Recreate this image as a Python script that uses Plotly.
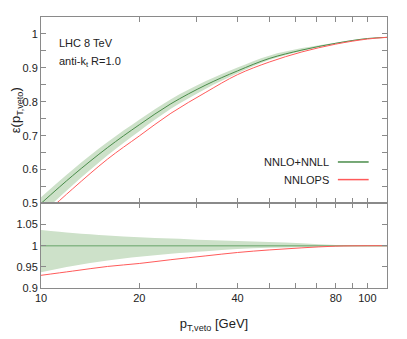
import plotly.graph_objects as go
from plotly.subplots import make_subplots

# jet veto efficiency vs pT,veto
pt = [10, 12.5, 16, 20, 25, 32, 40, 50, 63, 80, 100, 115]

# upper panel: efficiencies
eff_nnll = [0.500, 0.582, 0.665, 0.732, 0.794, 0.8495, 0.891, 0.9275, 0.9525,
            0.9725, 0.9865, 0.990]
eff_nnll_hi = [0.5185, 0.5995, 0.681, 0.7466, 0.8075, 0.861, 0.901, 0.9358, 0.9582,
               0.9744, 0.987, 0.990]
eff_nnll_lo = [0.4685, 0.554, 0.642, 0.713, 0.779, 0.8385, 0.884, 0.9229, 0.9496,
               0.9715, 0.9865, 0.990]
eff_nnlops = [0.459, 0.543, 0.631, 0.699, 0.766, 0.828, 0.880, 0.917, 0.947,
              0.970, 0.985, 0.990]

# lower panel: ratio to NNLO+NNLL central value
ratio_nnll = [1.0] * len(pt)
ratio_hi = [1.037, 1.030, 1.024, 1.020, 1.017, 1.0135, 1.011, 1.009, 1.006,
            1.002, 1.0005, 1.0]
ratio_lo = [0.937, 0.952, 0.965, 0.974, 0.981, 0.987, 0.992, 0.995, 0.997,
            0.999, 1.0, 1.0]
ratio_nnlops = [0.930, 0.940, 0.951, 0.958, 0.967, 0.976, 0.984, 0.990, 0.995,
                0.999, 1.0, 1.0]

x_ticks = [10, 20, 30, 40, 50, 60, 70, 80, 90, 100]
x_labels = ["10", "20", "", "40", "", "", "", "80", "", "100"]

GREEN = "#4a8c4a"
BAND = "rgb(205,225,201)"
RED = "#ff5a5a"
AX = "#8a8a8a"

fig = make_subplots(rows=2, cols=1, shared_xaxes=True, vertical_spacing=0,
                    row_heights=[0.688, 0.312])

def line(x, y, **kw):
    return go.Scatter(x=x, y=y, mode="lines", line_shape="spline",
                      showlegend=False, **kw)

# main panel
fig.add_trace(line(pt, eff_nnll_hi, line=dict(width=0), hoverinfo="skip"), row=1, col=1)
fig.add_trace(line(pt, eff_nnll_lo, line=dict(width=0), fill="tonexty",
                   fillcolor=BAND), row=1, col=1)
fig.add_trace(line(pt, eff_nnll, line=dict(color=GREEN, width=1)), row=1, col=1)
fig.add_trace(line(pt, eff_nnlops, line=dict(color=RED, width=1)), row=1, col=1)

# ratio panel
fig.add_trace(line(pt, ratio_hi, line=dict(width=0), hoverinfo="skip"), row=2, col=1)
fig.add_trace(line(pt, ratio_lo, line=dict(width=0), fill="tonexty",
                   fillcolor=BAND), row=2, col=1)
fig.add_trace(line(pt, ratio_nnll, line=dict(color="#88b888", width=1.5)), row=2, col=1)
fig.add_trace(line(pt, ratio_nnlops, line=dict(color=RED, width=1)), row=2, col=1)

axis_style = dict(showline=True, linecolor=AX, linewidth=1, mirror="allticks",
                  ticks="inside", ticklen=5, tickcolor=AX, showgrid=False,
                  zeroline=False, automargin=False)

fig.update_xaxes(type="log", range=[1, 2.06], tickvals=x_ticks, ticktext=x_labels,
                 **axis_style)
fig.update_xaxes(showticklabels=False, row=1, col=1)
fig.update_xaxes(title=dict(text="p<sub>T,veto</sub> [GeV]", standoff=15), row=2, col=1)

fig.update_yaxes(range=[0.5, 1.05], tickvals=[0.5, 0.6, 0.7, 0.8, 0.9, 1.0],
                 ticktext=["0.5", "0.6", "0.7", "0.8", "0.9", "1"],
                 minor=dict(dtick=0.05, ticks="inside", ticklen=5, tickcolor=AX),
                 title=dict(text="ε(p<sub>T,veto</sub>)", standoff=6),
                 row=1, col=1, **axis_style)
fig.update_yaxes(range=[0.9, 1.1], tickvals=[0.9, 0.95, 1.0, 1.05],
                 ticktext=["0.9", "0.95", "1", "1.05"], row=2, col=1, **axis_style)

# labels and legend drawn by hand (sample line on the right of the text)
fig.add_annotation(text="LHC 8 TeV", xref="paper", yref="paper", x=0.045, y=0.905,
                   xanchor="left", yanchor="middle", showarrow=False)
fig.add_annotation(text="anti-k<sub>t</sub> R=1.0", xref="paper", yref="paper",
                   x=0.045, y=0.835, xanchor="left", yanchor="middle", showarrow=False)
legend_items = [("NNLO+NNLL", GREEN, 0.465), ("NNLOPS", RED, 0.400)]
for name, col, yy in legend_items:
    fig.add_annotation(text=name, xref="paper", yref="paper", x=0.838, y=yy,
                       xanchor="right", yanchor="middle", showarrow=False)
    fig.add_shape(type="line", xref="paper", yref="paper", x0=0.858, x1=0.947,
                  y0=yy, y1=yy, line=dict(color=col, width=1.5))

# page body adds an 8px offset, so the figure is sized to fit inside the window
fig.update_layout(width=399, height=331, margin=dict(l=33, r=20, t=9, b=51),
                  plot_bgcolor="white", paper_bgcolor="white",
                  font=dict(family="Liberation Sans, Arial, sans-serif", size=11,
                            color="#222"),
                  showlegend=False)

fig.write_html("out.html")
